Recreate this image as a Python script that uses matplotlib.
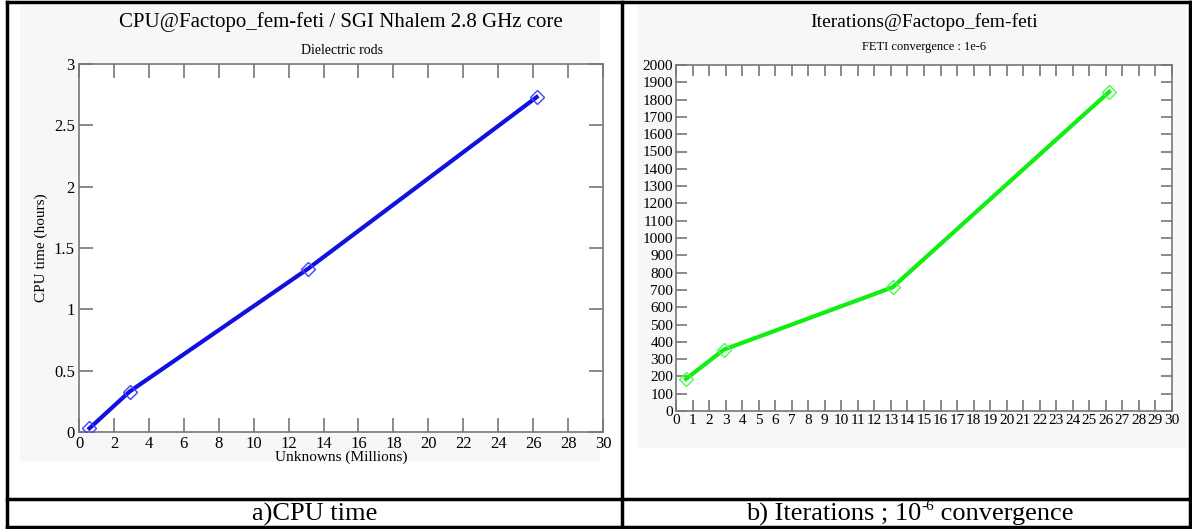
import matplotlib
matplotlib.use("Agg")
import matplotlib.pyplot as plt
from matplotlib.patches import Rectangle
from matplotlib.lines import Line2D
import numpy as np

# ---- data ----
unknowns_millions = [0.6, 2.9, 13.1, 26.2]
cpu_hours = [0.03, 0.33, 1.33, 2.73]
iterations = [185, 355, 715, 1845]

left_xticks = list(range(0, 31, 2))
left_yticks = [0, 0.5, 1, 1.5, 2, 2.5, 3]
left_yticklabels = ["0", "0.5", "1", "1.5", "2", "2.5", "3"]
right_xticks = list(range(0, 31, 1))
right_yticks = list(range(0, 2001, 100))

title_left = "CPU@Factopo_fem-feti / SGI Nhalem 2.8 GHz core"
subtitle_left = "Dielectric rods"
title_right = "Iterations@Factopo_fem-feti"
subtitle_right = "FETI convergence : 1e-6"
caption_left = "a)CPU time"
caption_right_parts = ["b) Iterations ; 10", "-6", " convergence"]

plt.rcParams['font.family'] = ['Liberation Serif', 'DejaVu Serif']

W, H = 1192, 529
fig = plt.figure(figsize=(W / 100, H / 100), dpi=100)

def fx(px):
    return px / W

def fy(py):
    return 1 - py / H

# light background of embedded images
fig.patches.append(Rectangle((fx(20), fy(462)), fx(600) - fx(20), fy(5) - fy(462),
                             transform=fig.transFigure, facecolor='#f7f7f7',
                             edgecolor='none', zorder=-5))
fig.patches.append(Rectangle((fx(638), fy(448)), fx(1186) - fx(638), fy(5) - fy(448),
                             transform=fig.transFigure, facecolor='#f7f7f7',
                             edgecolor='none', zorder=-5))

spine_col = '#777777'

def style_axes(ax, fs):
    ax.set_facecolor('#ffffff')
    for s in ax.spines.values():
        s.set_color(spine_col)
        s.set_linewidth(1.2)
    ax.tick_params(direction='in', length=10, width=1.2, color=spine_col,
                   top=True, right=True, labelsize=fs, pad=3)

# ---- left axes ----
axL = fig.add_axes([fx(79), fy(432), fx(603) - fx(79), fy(64) - fy(432)])
axL.plot(unknowns_millions, cpu_hours, color='#1010e0', lw=3, zorder=3)
axL.plot(unknowns_millions, cpu_hours, linestyle='none', marker='D', ms=7.5,
         mfc='none', mec='#4040ff', mew=1.0, zorder=4)
axL.set_xlim(0, 30)
axL.set_ylim(0, 3)
axL.set_xticks(left_xticks)
axL.set_yticks(left_yticks)
axL.set_yticklabels(left_yticklabels)
style_axes(axL, 12)
axL.set_xlabel("Unknowns (Millions)", fontsize=11, labelpad=-1)
axL.set_ylabel("CPU time (hours)", fontsize=11, labelpad=4)

# ---- right axes ----
axR = fig.add_axes([fx(676), fy(411), fx(1172) - fx(676), fy(65) - fy(411)])
axR.plot(unknowns_millions, iterations, color='#11ee11', lw=3, zorder=3)
axR.plot(unknowns_millions, iterations, linestyle='none', marker='D', ms=7.5,
         mfc='none', mec='#44ff44', mew=1.0, zorder=4)
axR.set_xlim(0, 30)
axR.set_ylim(0, 2000)
axR.set_xticks(right_xticks)
axR.set_yticks(right_yticks)
style_axes(axR, 11)
axR.tick_params(length=8, pad=2)

# ---- titles ----
fig.text(fx(341), fy(22), title_left, ha='center', va='center', fontsize=15)
fig.text(fx(342), fy(50), subtitle_left, ha='center', va='center', fontsize=10)
fig.text(fx(924), fy(22), title_right, ha='center', va='center', fontsize=14)
fig.text(fx(924), fy(47), subtitle_right, ha='center', va='center', fontsize=9)

# ---- captions ----
fig.text(fx(315), fy(514), caption_left, ha='center', va='center', fontsize=19)

renderer = fig.canvas.get_renderer()
sizes = [19, 11, 19]
widths = []
tmp = []
for s, fs in zip(caption_right_parts, sizes):
    t = fig.text(0, 0, s, fontsize=fs)
    widths.append(t.get_window_extent(renderer).width)
    tmp.append(t)
for t in tmp:
    t.remove()
total = sum(widths)
x = 910 - total / 2
for s, fs, w in zip(caption_right_parts, sizes, widths):
    yy = 514 if fs == 19 else 506
    fig.text(fx(x), fy(yy), s, ha='left', va='center', fontsize=fs)
    x += w

# ---- table borders ----
def line(x0, y0, x1, y1, lw=2.5):
    fig.add_artist(Line2D([fx(x0), fx(x1)], [fy(y0), fy(y1)], color='black',
                          lw=lw, transform=fig.transFigure, zorder=10))

line(7, 2, 1190, 2)
line(7, 527, 1190, 527)
line(7, 2, 7, 527)
line(1190, 2, 1190, 527)
line(622, 2, 622, 527)
line(7, 499, 1190, 499)

fig.savefig("out.png", dpi=100)
